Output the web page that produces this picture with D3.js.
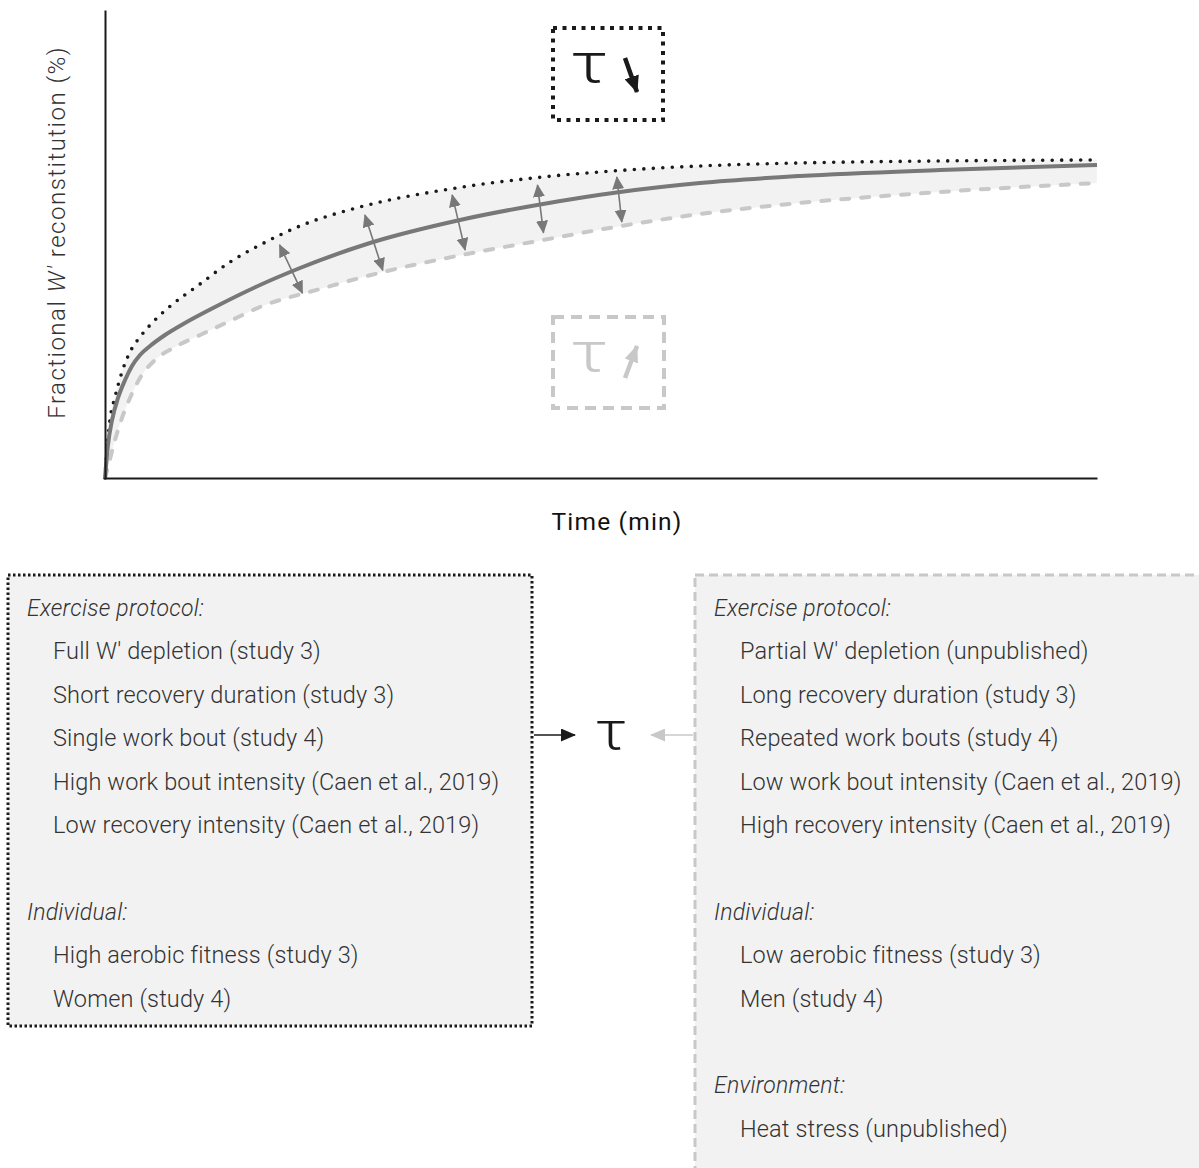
<!DOCTYPE html>
<html>
<head>
<meta charset="utf-8">
<script src="https://cdn.jsdelivr.net/npm/d3@7"></script>
<style>
  html, body { margin: 0; padding: 0; background: #fff; }
  svg { display: block; }
  text { font-family: Roboto, "Liberation Sans", Arial, sans-serif; }
</style>
</head>
<body>
<svg id="fig" width="1199" height="1168"></svg>
<script>
// Recovery curves: time (% of window) vs fractional W' reconstitution (% scale)
const fastTime   = [0, 0.20, 0.50, 1.01, 1.71, 2.52, 3.53, 4.74, 6.35, 9.58, 12.60, 15.63, 19.66, 25.71, 34.78, 44.15, 52.62, 59.98, 70.06, 84.17, 100];
const fastValues = [0, 5.98, 12.39, 17.31, 22.65, 26.92, 30.13, 33.12, 36.32, 41.45, 46.15, 49.79, 53.85, 57.91, 61.75, 64.32, 65.81, 66.67, 67.31, 67.74, 67.95];

const meanTime   = [0, 0.30, 0.71, 1.31, 2.02, 2.72, 3.53, 4.54, 6.05, 8.06, 11.09, 15.63, 19.66, 26.71, 35.79, 44.15, 51.92, 59.98, 70.06, 84.17, 100];
const meanValues = [0, 7.05, 12.39, 17.09, 20.94, 23.93, 26.28, 28.21, 30.56, 33.12, 36.54, 41.24, 44.87, 50.21, 55.13, 58.55, 61.11, 63.03, 64.53, 65.81, 66.88];

const slowTime   = [0, 0.30, 1.01, 1.71, 2.52, 3.53, 5.04, 7.06, 9.58, 12.60, 15.63, 21.67, 28.02, 36.49, 44.15, 52.62, 59.98, 70.06, 84.17, 100];
const slowValues = [0, 2.35, 8.12, 12.82, 17.09, 21.37, 25.21, 27.99, 30.56, 33.55, 36.54, 40.38, 44.02, 47.86, 50.85, 54.06, 56.41, 58.76, 61.11, 63.03];

// Double-headed arrows between the fast and slow curves: [t1, v1, t2, v2]
const spreadArrows = [
  [17.6, 49.8, 19.9, 39.5],
  [26.2, 56.2, 28.0, 44.4],
  [35.0, 60.5, 36.3, 48.7],
  [43.6, 62.6, 44.2, 52.4],
  [51.6, 64.3, 52.1, 54.7]
];

// Factor lists
const leftProtocol = [
  "Full W' depletion (study 3)",
  "Short recovery duration (study 3)",
  "Single work bout (study 4)",
  "High work bout intensity (Caen et al., 2019)",
  "Low recovery intensity (Caen et al., 2019)"
];
const leftIndividual = ["High aerobic fitness (study 3)", "Women (study 4)"];
const rightProtocol = [
  "Partial W' depletion (unpublished)",
  "Long recovery duration (study 3)",
  "Repeated work bouts (study 4)",
  "Low work bout intensity (Caen et al., 2019)",
  "High recovery intensity (Caen et al., 2019)"
];
const rightIndividual = ["Low aerobic fitness (study 3)", "Men (study 4)"];
const rightEnvironment = ["Heat stress (unpublished)"];

const DARK = "#1a1a1a", MID = "#787878", LIGHT = "#c8c8c8", BAND = "#f2f2f2";

const svg = d3.select("#fig");
const x = d3.scaleLinear().domain([0, 100]).range([105, 1097]);
const y = d3.scaleLinear().domain([0, 100]).range([478, 10]);

const zip = (ts, vs) => ts.map((t, i) => [t, vs[i]]);
const fast = zip(fastTime, fastValues);
const mean = zip(meanTime, meanValues);
const slow = zip(slowTime, slowValues);

const line = d3.line().x(d => x(d[0])).y(d => y(d[1])).curve(d3.curveMonotoneX);

// Shaded band between the fast and slow curves
const bandLayer = svg.append("g");
function samplePath(d) {
  const node = svg.append("path").attr("d", d).node();
  const L = node.getTotalLength();
  const pts = d3.range(0, L + 0.5, 1).map(l => {
    const p = node.getPointAtLength(Math.min(l, L));
    return [p.x, p.y];
  });
  node.remove();
  return pts;
}
const fp = samplePath(line(fast));
const sp = samplePath(line(slow)).reverse();
bandLayer.append("path").attr("d", d3.line()(fp.concat(sp)) + "Z").attr("fill", BAND);

// Arrow markers
const defs = svg.append("defs");
function marker(id, color, len, wid) {
  defs.append("marker")
    .attr("id", id).attr("markerUnits", "userSpaceOnUse")
    .attr("viewBox", `0 ${-wid / 2} ${len} ${wid}`)
    .attr("refX", len - 1).attr("refY", 0)
    .attr("markerWidth", len).attr("markerHeight", wid)
    .attr("orient", "auto-start-reverse")
    .append("path").attr("d", `M0,${-wid / 2}L${len},0L0,${wid / 2}Z`).attr("fill", color);
}
marker("headMid", MID, 13, 12);
marker("headDark", DARK, 15, 13);
marker("headLight", LIGHT, 15, 13);
marker("headDarkBig", DARK, 17, 15);
marker("headLightBig", LIGHT, 17, 14);

// Curves
svg.append("path").attr("d", line(slow)).attr("fill", "none")
  .attr("stroke", LIGHT).attr("stroke-width", 4).attr("stroke-linecap", "round")
  .attr("stroke-dasharray", "8,12");
svg.append("path").attr("d", line(fast)).attr("fill", "none")
  .attr("stroke", DARK).attr("stroke-width", 3.6).attr("stroke-linecap", "round")
  .attr("stroke-dasharray", "0,9.5");
svg.append("path").attr("d", line(mean)).attr("fill", "none")
  .attr("stroke", MID).attr("stroke-width", 4);

// Spread arrows
svg.selectAll("line.spread").data(spreadArrows).join("line")
  .attr("class", "spread")
  .attr("x1", d => x(d[0])).attr("y1", d => y(d[1]))
  .attr("x2", d => x(d[2])).attr("y2", d => y(d[3]))
  .attr("stroke", MID).attr("stroke-width", 1.6)
  .attr("marker-start", "url(#headMid)").attr("marker-end", "url(#headMid)");

// Axes (no ticks)
svg.append("g").attr("transform", `translate(${x(0)},0)`)
  .call(d3.axisLeft(y).tickValues([]).tickSizeOuter(0))
  .select(".domain").attr("stroke", DARK).attr("stroke-width", 2);
svg.append("g").attr("transform", `translate(0,${y(0)})`)
  .call(d3.axisBottom(x).tickValues([]).tickSizeOuter(0))
  .select(".domain").attr("stroke", DARK).attr("stroke-width", 2);

// Axis titles
const yt = svg.append("text")
  .attr("transform", `translate(65,${y(52.5)}) rotate(-90)`)
  .attr("text-anchor", "middle").attr("fill", "#333")
  .style("font-size", "24px").style("font-weight", 300).style("letter-spacing", "1.5px");
yt.append("tspan").text("Fractional ");
yt.append("tspan").style("font-style", "italic").text("W′");
yt.append("tspan").text(" reconstitution (%)");

svg.append("text").attr("x", 617).attr("y", 530)
  .attr("text-anchor", "middle").attr("fill", "#111")
  .style("font-size", "24.5px").style("font-weight", 400).style("letter-spacing", "1.2px")
  .text("Time (min)");

// Tau indicator boxes
function tauBox(bx, by, w, h, color, dash, dir, head) {
  const g = svg.append("g");
  g.append("rect").attr("x", bx).attr("y", by).attr("width", w).attr("height", h)
    .attr("fill", "none").attr("stroke", color).attr("stroke-width", 4)
    .attr("stroke-dasharray", dash);
  g.append("text")
    .attr("transform", `translate(${bx + 36},${by + 54}) scale(1.3,1)`)
    .attr("text-anchor", "middle").attr("fill", color)
    .style("font-size", "56px").style("font-weight", 300).text("τ");
  const ax = bx + 72;
  const [y1, y2] = dir === "down" ? [by + 30, by + 64] : [by + 61, by + 29];
  g.append("line").attr("x1", ax).attr("y1", y1).attr("x2", ax + 12).attr("y2", y2)
    .attr("stroke", color).attr("stroke-width", 4.5)
    .attr("marker-end", `url(#${head})`);
}
tauBox(553, 28, 110, 92, DARK, "4,5.5", "down", "headDarkBig");
tauBox(553, 317, 111, 91, LIGHT, "11,7", "up", "headLightBig");

// Factor panels
const rowStep = 43.4, firstRow = 616;
function panel(bx, by, w, h, color, dash, groups) {
  svg.append("rect").attr("x", bx).attr("y", by).attr("width", w).attr("height", h)
    .attr("fill", BAND).attr("stroke", color).attr("stroke-width", 3)
    .attr("stroke-dasharray", dash);
  const tx = bx + 19;
  groups.forEach(gr => {
    svg.append("text").attr("x", tx).attr("y", firstRow + gr.row * rowStep)
      .attr("fill", "#333").style("font-size", "23px").style("font-weight", 300)
      .style("letter-spacing", "0.25px")
      .style("font-style", "italic").text(gr.title);
    gr.items.forEach((it, i) => {
      svg.append("text").attr("x", tx + 26).attr("y", firstRow + (gr.row + 1 + i) * rowStep)
        .attr("fill", "#333").style("font-size", "23.5px").style("font-weight", 300)
        .style("letter-spacing", "0.15px")
        .text(it);
    });
  });
}
panel(8, 575, 524, 451, DARK, "2.5,2.5", [
  { title: "Exercise protocol:", row: 0, items: leftProtocol },
  { title: "Individual:", row: 7, items: leftIndividual }
]);
panel(695, 575, 520, 620, LIGHT, "9,5", [
  { title: "Exercise protocol:", row: 0, items: rightProtocol },
  { title: "Individual:", row: 7, items: rightIndividual },
  { title: "Environment:", row: 11, items: rightEnvironment }
]);

// Central tau with influence arrows
svg.append("text")
  .attr("transform", "translate(611,749) scale(1.2,1)")
  .attr("text-anchor", "middle")
  .attr("fill", DARK).style("font-size", "52px").style("font-weight", 300).text("τ");
svg.append("line").attr("x1", 534).attr("y1", 735).attr("x2", 575).attr("y2", 735)
  .attr("stroke", DARK).attr("stroke-width", 1.5).attr("marker-end", "url(#headDark)");
svg.append("line").attr("x1", 693).attr("y1", 735).attr("x2", 651).attr("y2", 735)
  .attr("stroke", LIGHT).attr("stroke-width", 1.5).attr("marker-end", "url(#headLight)");
</script>
</body>
</html>
